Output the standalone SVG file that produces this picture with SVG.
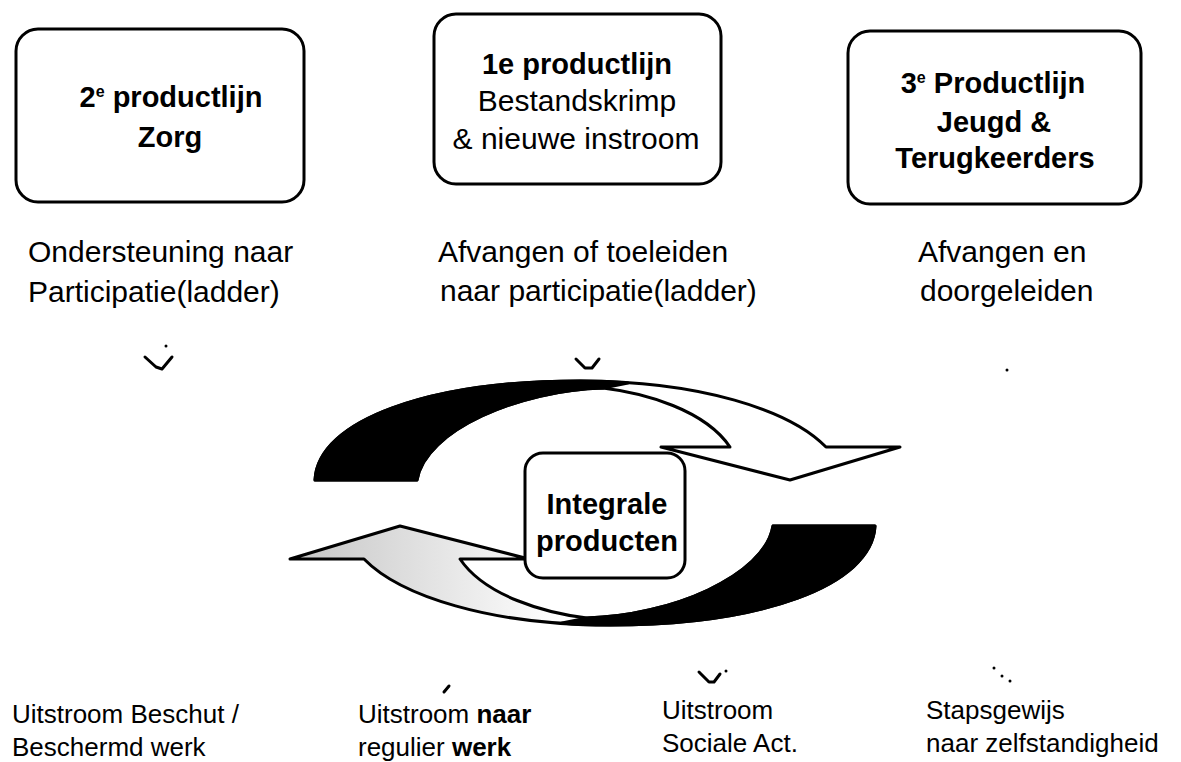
<svg xmlns="http://www.w3.org/2000/svg" width="1181" height="762" viewBox="0 0 1181 762">
<defs>
<style>
.box{fill:#fff;stroke:#000;stroke-width:3}
.t{font-family:"Liberation Sans",Arial,sans-serif;fill:#000}
.b{font-weight:bold;font-size:29px}
.r{font-size:30px}
.s{font-size:26px}
.band{stroke:#000;stroke-width:3;stroke-linejoin:round}
.mark{fill:none;stroke:#000;stroke-width:3;stroke-linecap:round;stroke-linejoin:round}
</style>
<linearGradient id="speckle" gradientUnits="userSpaceOnUse" x1="630" y1="0" x2="880" y2="0">
<stop offset="0" stop-color="#ffffff"/>
<stop offset="1" stop-color="#c9c9c9"/>
</linearGradient>
<path id="bandShape" d="M315,480 C318,420 430,381 580,381 C700,381 790,410 826,447 L900,447 L790,480 L661,447 L730,447 C705,410 645,393 603,388 C520,390 425,430 417,480 Z"/>
<path id="crescent" d="M315,480 C318,420 430,381 580,381 Q610,381 628,383 L603,388 C520,390 425,430 417,480 Z"/>
</defs>
<rect width="1181" height="762" fill="#fff"/>

<g id="connectors">
<g id="upper-arrow">
<use href="#bandShape" class="band" fill="#fff"/>
<use href="#crescent" class="band" fill="#000"/>
</g>
<g id="lower-arrow" transform="rotate(180 595 503)">
<use href="#bandShape" class="band" fill="url(#speckle)"/>
<use href="#crescent" class="band" fill="#000"/>
</g>
<path class="mark" d="M145,357 L156,367 L162,369 L172,357"/>
<circle cx="166" cy="346" r="1.5"/>
<path class="mark" d="M576,359 L585,368 L592,368 L599,359"/>
<circle cx="1007" cy="370" r="1.5"/>
<path class="mark" d="M444,692 L449,686"/>
<path class="mark" d="M699,672 L709,682 L714,682 L720,674"/>
<circle cx="726" cy="671" r="1.5"/>
<circle cx="994" cy="668" r="1.5"/>
<circle cx="1002" cy="676" r="1.5"/>
<circle cx="1010" cy="681" r="1.5"/>
</g>

<g id="box-zorg">
<rect class="box" x="16" y="29" width="288" height="173" rx="22"/>
<text class="t b" x="171" y="107" text-anchor="middle">2<tspan font-size="16" dy="-10">e</tspan><tspan dy="10"> productlijn</tspan></text>
<text class="t b" x="170" y="147" text-anchor="middle">Zorg</text>
</g>

<g id="box-bestand">
<rect class="box" x="434" y="14" width="287" height="170" rx="22"/>
<text class="t b" x="577" y="74" text-anchor="middle">1e productlijn</text>
<text class="t r" x="577" y="111" text-anchor="middle">Bestandskrimp</text>
<text class="t r" x="576" y="149" text-anchor="middle">&amp; nieuwe instroom</text>
</g>

<g id="box-jeugd">
<rect class="box" x="848" y="31" width="293" height="173" rx="22"/>
<text class="t b" x="993" y="93" text-anchor="middle">3<tspan font-size="16" dy="-10">e</tspan><tspan dy="10"> Productlijn</tspan></text>
<text class="t b" x="994" y="132" text-anchor="middle">Jeugd &amp;</text>
<text class="t b" x="995" y="168" text-anchor="middle">Terugkeerders</text>
</g>

<g id="label-zorg">
<text class="t r" x="28" y="262">Ondersteuning naar</text>
<text class="t r" x="28" y="302">Participatie(ladder)</text>
</g>
<g id="label-bestand">
<text class="t r" x="438" y="262">Afvangen of toeleiden</text>
<text class="t r" x="440" y="301">naar participatie(ladder)</text>
</g>
<g id="label-jeugd">
<text class="t r" x="918" y="262">Afvangen en</text>
<text class="t r" x="920" y="301">doorgeleiden</text>
</g>

<g id="center-node">
<rect class="box" x="525" y="453" width="160" height="125" rx="18"/>
<text class="t b" x="607" y="514" text-anchor="middle">Integrale</text>
<text class="t b" x="607" y="551" text-anchor="middle">producten</text>
</g>

<g id="out-beschut">
<text class="t s" x="12" y="723">Uitstroom Beschut /</text>
<text class="t s" x="12" y="756">Beschermd werk</text>
</g>
<g id="out-regulier">
<text class="t s" x="358" y="723">Uitstroom <tspan font-weight="bold">naar</tspan></text>
<text class="t s" x="358" y="756">regulier <tspan font-weight="bold">werk</tspan></text>
</g>
<g id="out-sociale">
<text class="t s" x="662" y="719">Uitstroom</text>
<text class="t s" x="662" y="752">Sociale Act.</text>
</g>
<g id="out-zelfstandig">
<text class="t s" x="926" y="719">Stapsgewijs</text>
<text class="t s" x="926" y="752">naar zelfstandigheid</text>
</g>
</svg>
